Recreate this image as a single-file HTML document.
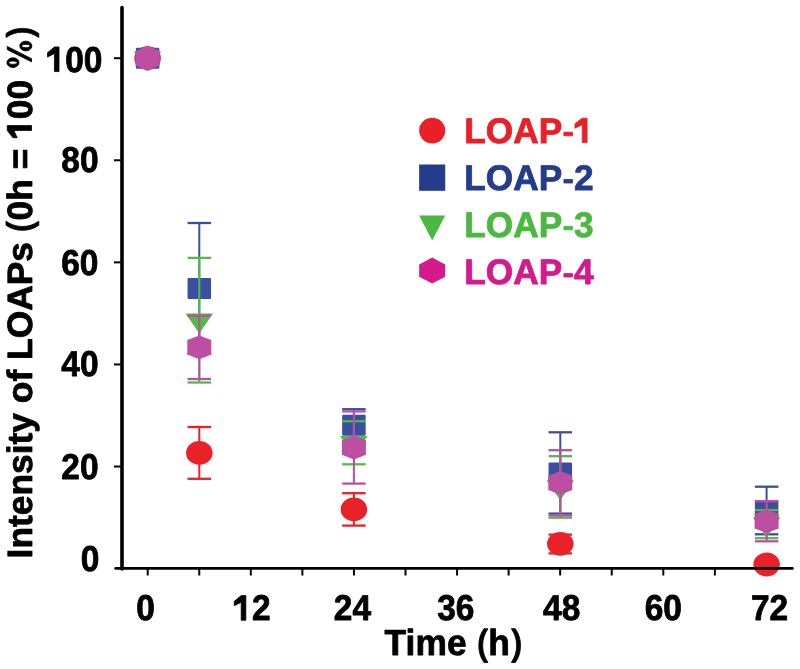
<!DOCTYPE html>
<html><head><meta charset="utf-8"><title>Intensity of LOAPs</title>
<style>html,body{margin:0;padding:0;background:#fff;width:800px;height:669px;overflow:hidden;position:relative}g.t path{fill-rule:evenodd;vector-effect:non-scaling-stroke;stroke-width:0.8px;stroke-linejoin:round}text.x{font-family:'Liberation Sans',sans-serif;font-weight:bold;text-rendering:geometricPrecision;stroke-width:0.8px;stroke-linejoin:round}tspan.h{fill-opacity:0;stroke-opacity:0}</style>
</head><body>
<svg width="800" height="669" viewBox="0 0 800 669" style="position:absolute;left:0;top:0;will-change:transform">
<rect width="800" height="669" fill="#fff"/>
<line x1="147.70" y1="568" x2="147.70" y2="575.5" stroke="#000" stroke-width="2"/>
<line x1="199.26" y1="568" x2="199.26" y2="575.5" stroke="#000" stroke-width="2"/>
<line x1="250.82" y1="568" x2="250.82" y2="575.5" stroke="#000" stroke-width="2"/>
<line x1="302.38" y1="568" x2="302.38" y2="575.5" stroke="#000" stroke-width="2"/>
<line x1="353.94" y1="568" x2="353.94" y2="575.5" stroke="#000" stroke-width="2"/>
<line x1="405.50" y1="568" x2="405.50" y2="575.5" stroke="#000" stroke-width="2"/>
<line x1="457.06" y1="568" x2="457.06" y2="575.5" stroke="#000" stroke-width="2"/>
<line x1="508.62" y1="568" x2="508.62" y2="575.5" stroke="#000" stroke-width="2"/>
<line x1="560.18" y1="568" x2="560.18" y2="575.5" stroke="#000" stroke-width="2"/>
<line x1="611.74" y1="568" x2="611.74" y2="575.5" stroke="#000" stroke-width="2"/>
<line x1="663.30" y1="568" x2="663.30" y2="575.5" stroke="#000" stroke-width="2"/>
<line x1="714.86" y1="568" x2="714.86" y2="575.5" stroke="#000" stroke-width="2"/>
<line x1="766.42" y1="568" x2="766.42" y2="575.5" stroke="#000" stroke-width="2"/>
<line x1="114" y1="466.52" x2="122" y2="466.52" stroke="#000" stroke-width="2"/>
<line x1="114" y1="364.44" x2="122" y2="364.44" stroke="#000" stroke-width="2"/>
<line x1="114" y1="262.36" x2="122" y2="262.36" stroke="#000" stroke-width="2"/>
<line x1="114" y1="160.28" x2="122" y2="160.28" stroke="#000" stroke-width="2"/>
<line x1="114" y1="58.20" x2="122" y2="58.20" stroke="#000" stroke-width="2"/>
<ellipse cx="147.60" cy="58.20" rx="13.25" ry="11.9" fill="#e9222a"/>
<line x1="199.30" y1="427.00" x2="199.30" y2="478.80" stroke="#e9222a" stroke-width="2.0"/>
<line x1="187.55" y1="427.00" x2="211.05" y2="427.00" stroke="#e9222a" stroke-width="2.3"/>
<line x1="187.55" y1="478.80" x2="211.05" y2="478.80" stroke="#e9222a" stroke-width="2.3"/>
<ellipse cx="199.30" cy="452.90" rx="13.25" ry="11.9" fill="#e9222a"/>
<line x1="353.90" y1="493.20" x2="353.90" y2="525.60" stroke="#e9222a" stroke-width="2.0"/>
<line x1="342.15" y1="493.20" x2="365.65" y2="493.20" stroke="#e9222a" stroke-width="2.3"/>
<line x1="342.15" y1="525.60" x2="365.65" y2="525.60" stroke="#e9222a" stroke-width="2.3"/>
<ellipse cx="353.90" cy="509.40" rx="13.25" ry="11.9" fill="#e9222a"/>
<line x1="560.30" y1="534.60" x2="560.30" y2="553.40" stroke="#e9222a" stroke-width="2.0"/>
<line x1="548.55" y1="534.60" x2="572.05" y2="534.60" stroke="#e9222a" stroke-width="2.3"/>
<line x1="548.55" y1="553.40" x2="572.05" y2="553.40" stroke="#e9222a" stroke-width="2.3"/>
<ellipse cx="560.30" cy="543.80" rx="13.25" ry="11.9" fill="#e9222a"/>
<ellipse cx="766.60" cy="564.50" rx="13.25" ry="11.9" fill="#e9222a"/>
<rect x="135.85" y="47.70" width="23.5" height="21.0" rx="1.2" fill="#3a4fa0"/>
<line x1="199.30" y1="223.00" x2="199.30" y2="353.80" stroke="#3a4fa0" stroke-width="2.0"/>
<line x1="187.55" y1="223.00" x2="211.05" y2="223.00" stroke="#3a4fa0" stroke-width="2.3"/>
<line x1="187.55" y1="353.80" x2="211.05" y2="353.80" stroke="#3a4fa0" stroke-width="2.3"/>
<rect x="187.55" y="277.90" width="23.5" height="21.0" rx="1.2" fill="#3a4fa0"/>
<line x1="353.90" y1="409.20" x2="353.90" y2="441.40" stroke="#3a4fa0" stroke-width="2.0"/>
<line x1="342.15" y1="409.20" x2="365.65" y2="409.20" stroke="#3a4fa0" stroke-width="2.3"/>
<line x1="342.15" y1="441.40" x2="365.65" y2="441.40" stroke="#3a4fa0" stroke-width="2.3"/>
<rect x="342.15" y="414.80" width="23.5" height="21.0" rx="1.2" fill="#3a4fa0"/>
<line x1="560.30" y1="432.30" x2="560.30" y2="513.60" stroke="#3a4fa0" stroke-width="2.0"/>
<line x1="548.55" y1="432.30" x2="572.05" y2="432.30" stroke="#3a4fa0" stroke-width="2.3"/>
<line x1="548.55" y1="513.60" x2="572.05" y2="513.60" stroke="#3a4fa0" stroke-width="2.3"/>
<rect x="548.55" y="462.50" width="23.5" height="21.0" rx="1.2" fill="#3a4fa0"/>
<line x1="766.60" y1="486.70" x2="766.60" y2="534.30" stroke="#3a4fa0" stroke-width="2.0"/>
<line x1="754.85" y1="486.70" x2="778.35" y2="486.70" stroke="#3a4fa0" stroke-width="2.3"/>
<line x1="754.85" y1="534.30" x2="778.35" y2="534.30" stroke="#3a4fa0" stroke-width="2.3"/>
<rect x="754.85" y="500.00" width="23.5" height="21.0" rx="1.2" fill="#3a4fa0"/>
<polygon points="133.85,51.53 161.35,51.53 147.60,71.53" fill="#55b947"/>
<line x1="199.30" y1="257.90" x2="199.30" y2="382.50" stroke="#55b947" stroke-width="2.0"/>
<line x1="187.55" y1="257.90" x2="211.05" y2="257.90" stroke="#55b947" stroke-width="2.3"/>
<line x1="187.55" y1="382.50" x2="211.05" y2="382.50" stroke="#55b947" stroke-width="2.3"/>
<polygon points="185.55,313.53 213.05,313.53 199.30,333.53" fill="#55b947"/>
<line x1="353.90" y1="421.20" x2="353.90" y2="464.30" stroke="#55b947" stroke-width="2.0"/>
<line x1="342.15" y1="421.20" x2="365.65" y2="421.20" stroke="#55b947" stroke-width="2.3"/>
<line x1="342.15" y1="464.30" x2="365.65" y2="464.30" stroke="#55b947" stroke-width="2.3"/>
<polygon points="340.15,436.08 367.65,436.08 353.90,456.08" fill="#55b947"/>
<line x1="560.30" y1="456.20" x2="560.30" y2="517.70" stroke="#55b947" stroke-width="2.0"/>
<line x1="548.55" y1="456.20" x2="572.05" y2="456.20" stroke="#55b947" stroke-width="2.3"/>
<line x1="548.55" y1="517.70" x2="572.05" y2="517.70" stroke="#55b947" stroke-width="2.3"/>
<polygon points="546.55,480.33 574.05,480.33 560.30,500.33" fill="#55b947"/>
<line x1="766.60" y1="510.10" x2="766.60" y2="538.20" stroke="#55b947" stroke-width="2.0"/>
<line x1="754.85" y1="510.10" x2="778.35" y2="510.10" stroke="#55b947" stroke-width="2.3"/>
<line x1="754.85" y1="538.20" x2="778.35" y2="538.20" stroke="#55b947" stroke-width="2.3"/>
<polygon points="752.85,517.53 780.35,517.53 766.60,537.53" fill="#55b947"/>
<polygon points="147.60,45.50 159.70,51.00 159.70,65.60 147.60,71.10 135.50,65.60 135.50,51.00" fill="#bc4fa2"/>
<line x1="199.30" y1="315.70" x2="199.30" y2="379.00" stroke="#bc4fa2" stroke-width="2.0"/>
<line x1="187.55" y1="315.70" x2="211.05" y2="315.70" stroke="#bc4fa2" stroke-width="2.3"/>
<line x1="187.55" y1="379.00" x2="211.05" y2="379.00" stroke="#bc4fa2" stroke-width="2.3"/>
<polygon points="199.30,335.40 211.30,340.10 211.30,354.50 199.30,359.20 187.30,354.50 187.30,340.10" fill="#bc4fa2"/>
<line x1="353.90" y1="411.40" x2="353.90" y2="483.60" stroke="#bc4fa2" stroke-width="2.0"/>
<line x1="342.15" y1="411.40" x2="365.65" y2="411.40" stroke="#bc4fa2" stroke-width="2.3"/>
<line x1="342.15" y1="483.60" x2="365.65" y2="483.60" stroke="#bc4fa2" stroke-width="2.3"/>
<polygon points="353.90,435.60 365.90,440.30 365.90,454.70 353.90,459.40 341.90,454.70 341.90,440.30" fill="#bc4fa2"/>
<line x1="560.30" y1="450.20" x2="560.30" y2="515.50" stroke="#bc4fa2" stroke-width="2.0"/>
<line x1="548.55" y1="450.20" x2="572.05" y2="450.20" stroke="#bc4fa2" stroke-width="2.3"/>
<line x1="548.55" y1="515.50" x2="572.05" y2="515.50" stroke="#bc4fa2" stroke-width="2.3"/>
<polygon points="560.30,471.00 572.30,475.70 572.30,490.10 560.30,494.80 548.30,490.10 548.30,475.70" fill="#bc4fa2"/>
<line x1="766.60" y1="501.10" x2="766.60" y2="541.30" stroke="#bc4fa2" stroke-width="2.0"/>
<line x1="754.85" y1="501.10" x2="778.35" y2="501.10" stroke="#bc4fa2" stroke-width="2.3"/>
<line x1="754.85" y1="541.30" x2="778.35" y2="541.30" stroke="#bc4fa2" stroke-width="2.3"/>
<polygon points="766.60,509.30 778.60,514.00 778.60,528.40 766.60,533.10 754.60,528.40 754.60,514.00" fill="#bc4fa2"/>
<line x1="122" y1="7.6" x2="122" y2="569" stroke="#000" stroke-width="3.6" stroke-linecap="round"/>
<line x1="115.6" y1="568.4" x2="792.4" y2="568.4" stroke="#000" stroke-width="2.7" stroke-linecap="round"/>
<g transform="translate(46.62 71.57) scale(0.935 1)"><text x="0" y="0" class="x" font-size="35.8" fill="#000" stroke="#000"><tspan class="h">1</tspan>00</text><g class="t" transform="scale(0.017480 -0.017480)" fill="#000" stroke="#000"><path transform="translate(0 0)" d="M478 0L478 1030L55 830L55 1080L478 1409L759 1409L759 0Z"/></g></g>
<g transform="translate(61.34 172.20) scale(0.935 1)"><text x="0" y="0" class="x" font-size="35.8" fill="#000" stroke="#000">80</text></g>
<g transform="translate(61.26 275.20) scale(0.935 1)"><text x="0" y="0" class="x" font-size="35.8" fill="#000" stroke="#000">60</text></g>
<g transform="translate(61.27 376.27) scale(0.935 1)"><text x="0" y="0" class="x" font-size="35.8" fill="#000" stroke="#000">40</text></g>
<g transform="translate(61.29 479.20) scale(0.935 1)"><text x="0" y="0" class="x" font-size="35.8" fill="#000" stroke="#000">20</text></g>
<g transform="translate(80.77 571.02) scale(0.935 1)"><text x="0" y="0" class="x" font-size="35.8" fill="#000" stroke="#000">0</text></g>
<g transform="translate(136.27 620.07) scale(0.935 1)"><text x="0" y="0" class="x" font-size="35.8" fill="#000" stroke="#000">0</text></g>
<g transform="translate(233.41 620.25) scale(0.935 1)"><text x="0" y="0" class="x" font-size="35.8" fill="#000" stroke="#000"><tspan class="h">1</tspan>2</text><g class="t" transform="scale(0.017480 -0.017480)" fill="#000" stroke="#000"><path transform="translate(0 0)" d="M478 0L478 1030L55 830L55 1080L478 1409L759 1409L759 0Z"/></g></g>
<g transform="translate(333.84 620.25) scale(0.935 1)"><text x="0" y="0" class="x" font-size="35.8" fill="#000" stroke="#000">24</text></g>
<g transform="translate(437.15 620.05) scale(0.935 1)"><text x="0" y="0" class="x" font-size="35.8" fill="#000" stroke="#000">36</text></g>
<g transform="translate(543.05 620.07) scale(0.935 1)"><text x="0" y="0" class="x" font-size="35.8" fill="#000" stroke="#000">48</text></g>
<g transform="translate(644.76 620.07) scale(0.935 1)"><text x="0" y="0" class="x" font-size="35.8" fill="#000" stroke="#000">60</text></g>
<g transform="translate(750.93 620.25) scale(0.935 1)"><text x="0" y="0" class="x" font-size="35.8" fill="#000" stroke="#000">72</text></g>
<g transform="translate(384.62 654.99) scale(0.975 1)"><text x="0" y="0" class="x" font-size="36.3" fill="#000" stroke="#000">Time <tspan class="h">(</tspan>h<tspan class="h">)</tspan></text><g class="t" transform="scale(0.017725 -0.017725)" fill="#000" stroke="#000"><path transform="translate(5349 0)" d="M399 -425Q242 -199 172 26Q102 251 102 531Q102 810 172 1034Q242 1259 399 1484L630 1484Q478 1256 402 1030Q326 804 326 530Q326 257 402 32Q478 -192 630 -425Z"/><path transform="translate(7282 0)" d="M52 -425Q204 -191 280 32Q356 256 356 530Q356 805 280 1031Q204 1258 52 1484L283 1484Q441 1257 510 1032Q580 807 580 531Q580 253 510 28Q441 -197 283 -425Z"/></g></g>
<g transform="translate(31.51 292.20) rotate(-90) translate(-266.18 0) scale(1.005 1)"><text x="0" y="0" class="x" font-size="35.2" fill="#000" stroke="#000">Intensity of LOAPs <tspan class="h">(</tspan>0h = <tspan class="h">1</tspan>00 <tspan class="h">%</tspan><tspan class="h">)</tspan></text><g class="t" transform="scale(0.017188 -0.017188)" fill="#000" stroke="#000"><path transform="translate(18889 0)" d="M399 -425Q242 -199 172 26Q102 251 102 531Q102 810 172 1034Q242 1259 399 1484L630 1484Q478 1256 402 1030Q326 804 326 530Q326 257 402 32Q478 -192 630 -425Z"/><path transform="translate(24295 0)" d="M478 0L478 1030L55 830L55 1080L478 1409L759 1409L759 0Z"/><path transform="translate(28281 0)" d="M650 0L465 0L1170 1409L1355 1409ZM135 1080A282 352 0 1 0 699 1080A282 352 0 1 0 135 1080ZM317 1080A100 240 0 1 0 517 1080A100 240 0 1 0 317 1080ZM1098 330A282 352 0 1 0 1662 330A282 352 0 1 0 1098 330ZM1280 330A100 240 0 1 0 1480 330A100 240 0 1 0 1280 330Z"/><path transform="translate(30102 0)" d="M52 -425Q204 -191 280 32Q356 256 356 530Q356 805 280 1031Q204 1258 52 1484L283 1484Q441 1257 510 1032Q580 807 580 531Q580 253 510 28Q441 -197 283 -425Z"/></g></g>
<ellipse cx="432.2" cy="130.6" rx="13.05" ry="12.8" fill="#ea1f27"/>
<g transform="translate(464.34 142.57) scale(0.993 1)"><text x="0" y="0" class="x" font-size="35.5" fill="#ea1f27" stroke="#ea1f27">LOAP<tspan class="h">-</tspan><tspan class="h">1</tspan></text><g class="t" transform="scale(0.017334 -0.017334)" fill="#ea1f27" stroke="#ea1f27"><path transform="translate(5689 0)" d="M95 395L95 600L595 600L595 395Z"/><path transform="translate(6371 0)" d="M478 0L478 1030L55 830L55 1080L478 1409L759 1409L759 0Z"/></g></g>
<rect x="419.15" y="164.5" width="26.1" height="26.3" fill="#243c8c"/>
<g transform="translate(464.34 189.87) scale(0.993 1)"><text x="0" y="0" class="x" font-size="35.5" fill="#243c8c" stroke="#243c8c">LOAP<tspan class="h">-</tspan>2</text><g class="t" transform="scale(0.017334 -0.017334)" fill="#243c8c" stroke="#243c8c"><path transform="translate(5689 0)" d="M95 395L95 600L595 600L595 395Z"/></g></g>
<polygon points="419.15,215.5 445.25,215.5 432.2,240.4" fill="#4bb941"/>
<g transform="translate(464.34 236.69) scale(0.993 1)"><text x="0" y="0" class="x" font-size="35.5" fill="#4bb941" stroke="#4bb941">LOAP<tspan class="h">-</tspan>3</text><g class="t" transform="scale(0.017334 -0.017334)" fill="#4bb941" stroke="#4bb941"><path transform="translate(5689 0)" d="M95 395L95 600L595 600L595 395Z"/></g></g>
<polygon points="432.2,257.6 445.25,264.6 445.25,276.7 432.2,283.4 419.15,276.7 419.15,264.6" fill="#d41a8c"/>
<g transform="translate(464.34 283.87) scale(0.993 1)"><text x="0" y="0" class="x" font-size="35.5" fill="#d41a8c" stroke="#d41a8c">LOAP<tspan class="h">-</tspan>4</text><g class="t" transform="scale(0.017334 -0.017334)" fill="#d41a8c" stroke="#d41a8c"><path transform="translate(5689 0)" d="M95 395L95 600L595 600L595 395Z"/></g></g>
</svg>
</body></html>
